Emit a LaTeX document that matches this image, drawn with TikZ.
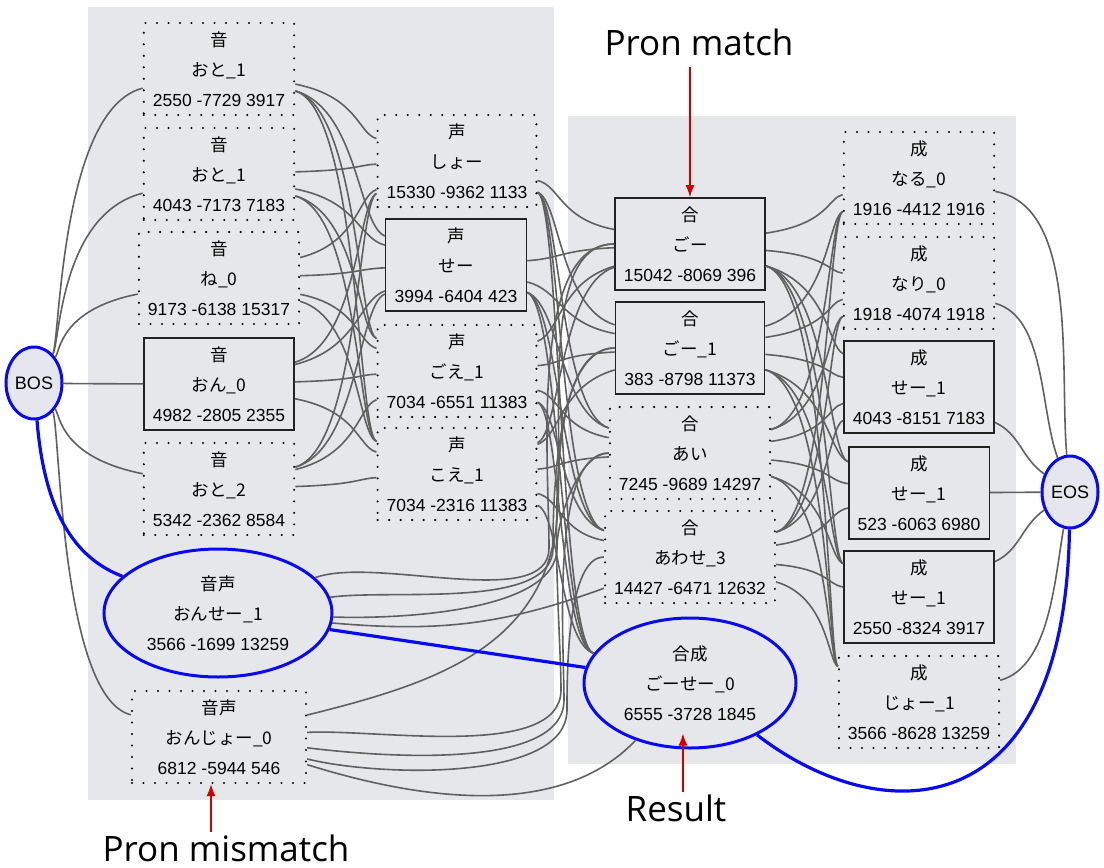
\documentclass[tikz,border=0pt]{standalone}
\usepackage{fontspec}
\setmainfont{Liberation Sans}
\newfontfamily\jp{Noto Sans CJK JP}
\newfontfamily\callout{Open Sans}
\usetikzlibrary{arrows.meta,calc,shapes.geometric}
\definecolor{Panel}{HTML}{E5E7EB}
\definecolor{Cap}{HTML}{E6E6EE}
\definecolor{Wire}{HTML}{606060}
\definecolor{Ink}{HTML}{222222}
\definecolor{Best}{HTML}{0A0AF0}
\definecolor{Mark}{HTML}{D00000}
\newcommand\tri[3]{{\jp #1}\\{\jp #2}\\#3}
\newcommand\lnk[3]{%
  \draw[edge] let \p1=(#1), \p2=(#2), \n1={max(-40,min(40,0.3*((\y2)-(\y1))))} in
    (#1) .. controls (#3,{(\y1)+(\n1)}) and (#3,{(\y2)-(\n1)}) .. (#2);}

\begin{document}
\begin{tikzpicture}[x=1pt,y=1pt,
  lat/.style={fill=Panel,align=center,font=\fontsize{17.5}{30}\selectfont,inner xsep=9pt,inner ysep=0pt,minimum height=92pt},
  sure/.style={lat,draw=Ink,line width=1.6pt},
  maybe/.style={lat,draw=black,line width=2.3pt,line cap=round,dash pattern=on 0pt off 11.5pt},
  pick/.style={lat,ellipse,draw=Best,line width=3pt,inner sep=0pt},
  term/.style={ellipse,draw=Best,line width=3pt,fill=Cap,inner sep=0pt,minimum width=56pt,minimum height=72pt,font=\fontsize{18}{20}\selectfont},
  edge/.style={draw=Wire,line width=1.6pt},
  best/.style={draw=Best,line width=3.2pt},
  note/.style={draw=Mark,line width=1.4pt,-{Latex[length=12pt,width=9pt]}},
  remark/.style={font=\callout\fontsize{35}{42}\selectfont,inner sep=2pt}]
 \useasboundingbox (0,0) rectangle (1104,-868);
 \fill[Panel] (88,-7) rectangle (554,-800);
 \fill[Panel] (568,-116) rectangle (1016,-764);

 \node[term] (BOS) at (34,-383) {BOS};
 \node[term] (EOS) at (1070,-492) {EOS};

 \node[maybe] (n1) at (219,-69) {\tri{音}{おと\_1}{2550 -7729 3917}};
 \node[maybe] (n2) at (219,-174) {\tri{音}{おと\_1}{4043 -7173 7183}};
 \node[maybe] (n3) at (219,-278) {\tri{音}{ね\_0}{9173 -6138 15317}};
 \node[sure] (n4) at (219,-384) {\tri{音}{おん\_0}{4982 -2805 2355}};
 \node[maybe] (n5) at (219,-489) {\tri{音}{おと\_2}{5342 -2362 8584}};
 \node[pick,minimum width=228pt,minimum height=128pt] (n6) at (218,-613) {\tri{音声}{おんせー\_1}{3566 -1699 13259}};
 \node[maybe,minimum width=174pt] (n7) at (219,-737) {\tri{音声}{おんじょー\_0}{6812 -5944 546}};

 \node[maybe] (m1) at (457,-161) {\tri{声}{しょー}{15330 -9362 1133}};
 \node[sure] (m2) at (456,-265) {\tri{声}{せー}{3994 -6404 423}};
 \node[maybe] (m3) at (457,-371) {\tri{声}{ごえ\_1}{7034 -6551 11383}};
 \node[maybe] (m4) at (457,-474) {\tri{声}{こえ\_1}{7034 -2316 11383}};

 \node[sure] (r1) at (690,-244) {\tri{合}{ごー}{15042 -8069 396}};
 \node[sure] (r2) at (690,-348) {\tri{合}{ごー\_1}{383 -8798 11373}};
 \node[maybe] (r3) at (690,-453) {\tri{合}{あい}{7245 -9689 14297}};
 \node[maybe] (r4) at (690,-557) {\tri{合}{あわせ\_3}{14427 -6471 12632}};
 \node[pick,minimum width=212pt,minimum height=130pt] (r5) at (690,-683) {\tri{合成}{ごーせー\_0}{6555 -3728 1845}};

 \node[maybe] (s1) at (919,-178) {\tri{成}{なる\_0}{1916 -4412 1916}};
 \node[maybe] (s2) at (919,-283) {\tri{成}{なり\_0}{1918 -4074 1918}};
 \node[sure] (s3) at (919,-387) {\tri{成}{せー\_1}{4043 -8151 7183}};
 \node[sure] (s4) at (919,-493) {\tri{成}{せー\_1}{523 -6063 6980}};
 \node[sure] (s5) at (919,-597) {\tri{成}{せー\_1}{2550 -8324 3917}};
 \node[maybe] (s6) at (919,-702) {\tri{成}{じょー\_1}{3566 -8628 13259}};

 \node[remark] (match) at (699,-42) {Pron match};
 \node[remark] (result) at (676,-808) {Result};
 \node[remark] (mismatch) at (226,-848) {Pron mismatch};

 \foreach \i in {1,2,3,4,5,7} {\lnk{BOS}{n\i}{60}}
 \foreach \i in {1,...,5} \foreach \j in {1,...,4} {\lnk{n\i}{m\j}{358}}
 \foreach \i in {1,...,4} \foreach \j in {1,...,5} {\lnk{m\i}{r\j}{560}}
 \foreach \i in {1,...,4} \foreach \j in {1,...,6} {\lnk{r\i}{s\j}{828}}
 \foreach \j/\wx/\a in {1/549/20,2/553/8,3/557/-2}
  \draw[edge] (n6) to[out=\a,in=-90,looseness=.7] (\wx,-548) to[out=90,in=180,looseness=.7] (r\j);
 \draw[edge] (n6) to[out=-5,in=200] (r4);
 \draw[edge] (n7) to[out=14,in=-100] (555,-535) to[out=80,in=180,looseness=.7] (r1);
 \foreach \j/\wx/\wy/\a in {2/561/-690/3,3/564/-700/-7,4/567/-710/-14}
  \draw[edge] (n7) to[out=\a,in=-90,looseness=.7] (\wx,\wy) to[out=90,in=180,looseness=.6] (r\j);
 \draw[edge] (n7) .. controls (420,-800) and (560,-820) .. (r5);
 \draw[edge] (s1) to[out=-10,in=95,looseness=.8] (EOS);
 \draw[edge] (s2) to[out=-15,in=110,looseness=.8] (EOS);
 \draw[edge] (s3) to[out=-25,in=145] (EOS);
 \draw[edge] (s4) -- (EOS);
 \draw[edge] (s5) to[out=25,in=-145] (EOS);
 \draw[edge] (s6) to[out=15,in=-100,looseness=.8] (EOS);

 \draw[best] (BOS) .. controls (45,-520) and (80,-560) .. (n6);
 \draw[best] (n6) -- (r5);
 \draw[best] (r5) .. controls (880,-830) and (1065,-830) .. (EOS);

 \draw[note] ([yshift=-9pt]match.south -| r1.north) -- (r1.north);
 \draw[note] ([xshift=7pt]result.north) -- ([xshift=-7pt,yshift=16pt]r5.south);
 \draw[note] ([xshift=-15pt]mismatch.north) -- ([xshift=-8pt]n7.south);
\end{tikzpicture}
\end{document}
